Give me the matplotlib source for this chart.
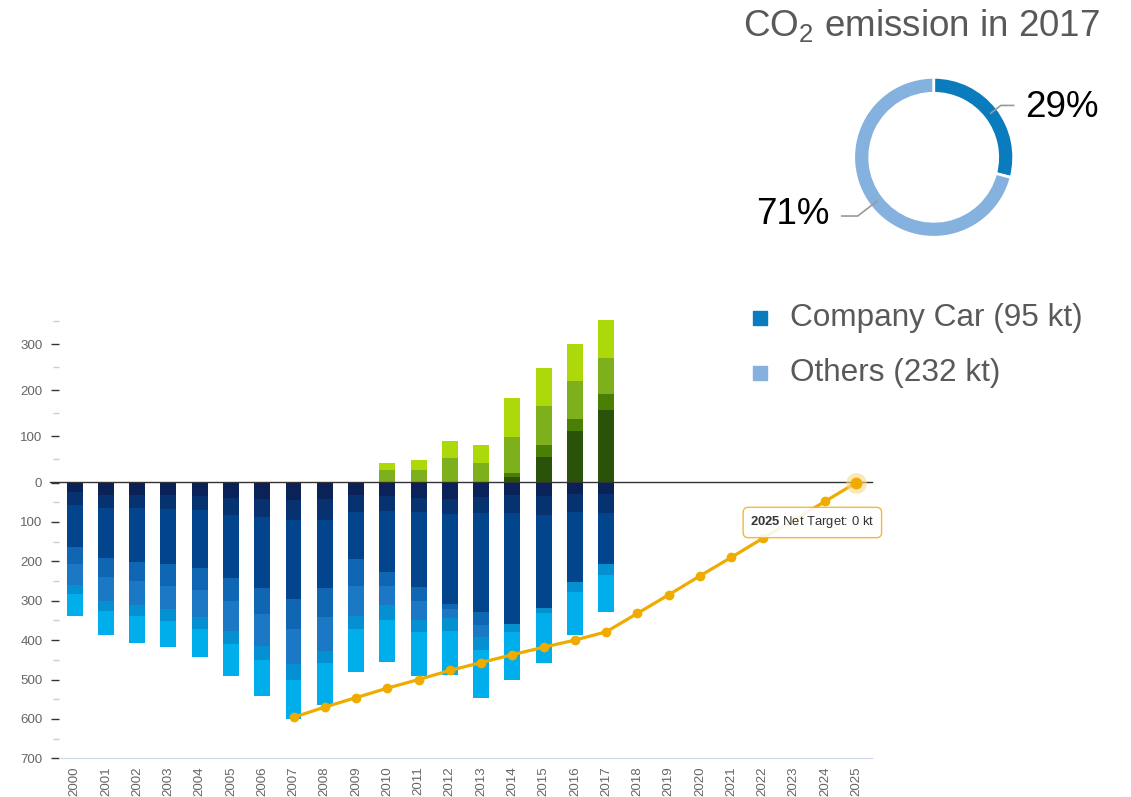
import numpy as np
import matplotlib.pyplot as plt
from matplotlib.patches import Rectangle
from matplotlib.ticker import MultipleLocator, FixedLocator

plt.rcParams['font.family'] = ['Liberation Sans', 'DejaVu Sans']
plt.rcParams['mathtext.fontset'] = 'custom'
plt.rcParams['mathtext.rm'] = 'Liberation Sans'
plt.rcParams['mathtext.bf'] = 'Liberation Sans:bold'

# Data
years = list(range(2000, 2026))
bar_years = list(range(2000, 2018))

# emission segments (kt), stacked downward, darkest first
seg1 = [25, 31, 31, 31, 33, 39, 42, 45, 42, 31, 33, 39, 42, 37, 31, 33, 28, 28]
seg2 = [31, 34, 34, 35, 37, 43, 45, 50, 52, 44, 39, 36, 39, 41, 47, 50, 47, 50]
seg3 = [108, 127, 136, 140, 147, 160, 180, 200, 173, 119, 156, 189, 227, 250, 280, 236, 177, 128]
seg4 = [42, 47, 48, 56, 57, 60, 68, 77, 74, 68, 34, 36, 14, 33, 0, 0, 0, 0]
seg5 = [53, 62, 62, 60, 68, 76, 81, 88, 87, 78, 48, 48, 23, 30, 0, 0, 0, 0]
seg6 = [25, 25, 28, 29, 29, 32, 34, 41, 31, 33, 39, 31, 31, 35, 21, 12, 27, 29]
seg7 = [54, 62, 69, 67, 72, 81, 91, 99, 105, 108, 106, 112, 112, 121, 123, 126, 107, 94]

# offset segments (kt), stacked upward, 2010-2017
green_years = list(range(2010, 2018))
green1 = [0, 0, 0, 0, 11, 56, 112, 158]
green2 = [0, 0, 0, 0, 9, 26, 25, 33]
green3 = [27, 27, 53, 43, 78, 85, 83, 79]
green4 = [16, 21, 38, 38, 86, 81, 80, 83]

# net target path 2007-2025
target_years = list(range(2007, 2026))
target = [596, 570, 546, 522, 500, 477, 457, 437, 418, 400, 379,
          332, 285, 237, 190, 142, 95, 48, 0]

# donut 2017
donut_labels = ['Company Car', 'Others']
donut_values = [95, 232]
donut_colors = ['#0a7bbd', '#85b1de']

blue_colors = ['#0b2259', '#06326f', '#03458c', '#0f66b3', '#1a78c5', '#0590d1', '#00aeeb']
green_colors = ['#2b520a', '#4a7f06', '#7db01c', '#add80a']
line_color = '#f0ab00'
label_color = '#666666'

W, H = 1131, 797


def px_rect(x0, y0, x1, y1):
    return [x0 / W, 1 - y1 / H, (x1 - x0) / W, (y1 - y0) / H]


fig = plt.figure(figsize=(W / 100, H / 100), dpi=100)

ax_top = fig.add_axes(px_rect(59, 312, 872, 482.5))
ax_bot = fig.add_axes(px_rect(59, 482.5, 872, 758.3))

xi = {y: i for i, y in enumerate(years)}
bw = 0.51

# negative bars
bx = [xi[y] for y in bar_years]
bottom = np.zeros(len(bar_years))
for seg, c in zip([seg1, seg2, seg3, seg4, seg5, seg6, seg7], blue_colors):
    ax_bot.bar(bx, seg, bw, bottom=bottom, color=c, linewidth=0, zorder=2)
    bottom += np.array(seg)

# positive bars
gx = [xi[y] for y in green_years]
bottom = np.zeros(len(green_years))
for seg, c in zip([green1, green2, green3, green4], green_colors):
    ax_top.bar(gx, seg, bw, bottom=bottom, color=c, linewidth=0, zorder=2)
    bottom += np.array(seg)

# target line
tx = [xi[y] for y in target_years]
ax_bot.plot(tx, target, color=line_color, lw=2.3, marker='o', ms=6, zorder=5, clip_on=False)
ax_bot.plot(tx[-1], target[-1], 'o', ms=15, color='#f7d98a', alpha=0.6, zorder=6, clip_on=False,
            markeredgewidth=0)
ax_bot.plot(tx[-1], target[-1], 'o', ms=7.5, color=line_color, zorder=7, clip_on=False)

ax_bot.annotate(r'$\mathbf{2025}$ Net Target: ' + f'{target[-1]} kt',
                xy=(tx[-1], target[-1]), xytext=(-44, -40), textcoords='offset pixels',
                ha='center', va='center', fontsize=9.4, color='#333333', zorder=10,
                bbox=dict(boxstyle='round,pad=0.55,rounding_size=0.4', fc='white', alpha=0.9,
                          ec='#f0b323', lw=1.0))

for ax in (ax_top, ax_bot):
    ax.set_xlim(-0.5, len(years) - 0.5)
    for s in ax.spines.values():
        s.set_visible(False)
    ax.tick_params(axis='y', which='major', length=6, width=1, color='#333333',
                   labelsize=9.6, labelcolor=label_color, pad=6)
    ax.tick_params(axis='y', which='minor', length=4, width=1, color='#cccccc')
    ax.set_facecolor('none')

ax_top.set_ylim(0, 370)
ax_top.yaxis.set_major_locator(FixedLocator([100, 200, 300]))
ax_top.yaxis.set_minor_locator(FixedLocator([50, 150, 250, 350]))
ax_top.set_xticks([])
ax_top.axhline(0, xmin=-0.011, xmax=1.0, color='#333333', lw=1.0, zorder=4, clip_on=False)

ax_bot.set_ylim(700, 0)
ax_bot.yaxis.set_major_locator(MultipleLocator(100))
ax_bot.yaxis.set_minor_locator(FixedLocator(np.arange(50, 700, 100)))
ax_bot.spines['bottom'].set_visible(True)
ax_bot.spines['bottom'].set_color('#ccd6eb')
ax_bot.set_xticks(range(len(years)))
ax_bot.set_xticklabels([str(y) for y in years], rotation=90, fontsize=9.6, color=label_color)
ax_bot.tick_params(axis='x', length=0, pad=6)

# title
fig.text(743 / W, 1 - 37 / H, r'CO$_2$ emission in 2017', fontsize=26.5, color='#595959',
         ha='left', va='baseline')

# donut
ax_d = fig.add_axes(px_rect(853.7, 77.3, 1013.7, 237.3))
wedges, _ = ax_d.pie(donut_values, colors=donut_colors, startangle=90, counterclock=False,
                     wedgeprops=dict(width=0.2, edgecolor='white', linewidth=2))
ax_d.set_xlim(-1, 1)
ax_d.set_ylim(-1, 1)
total = sum(donut_values)
elbow_r = [1.06, 1.2]
run = [0.16, 0.2]
for w, v, er, rl in zip(wedges, donut_values, elbow_r, run):
    ang = np.deg2rad((w.theta1 + w.theta2) / 2)
    c, s = np.cos(ang), np.sin(ang)
    sign = 1 if c > 0 else -1
    p0 = (0.9 * c, 0.9 * s)
    p1 = (er * c, er * s)
    p2 = (p1[0] + sign * rl, p1[1])
    ax_d.plot([p0[0], p1[0], p2[0]], [p0[1], p1[1], p2[1]], color='#999999', lw=1.2,
              clip_on=False)
    ax_d.text(p2[0] + sign * 0.15, p2[1] - 0.02 * sign, f'{round(100 * v / total)}%',
              fontsize=26.5, color='black', ha='left' if sign > 0 else 'right', va='center',
              clip_on=False)

# legend
for i, (lab, v, c) in enumerate(zip(donut_labels, donut_values, donut_colors)):
    yc = 318 + 55 * i
    fig.patches.append(Rectangle((753 / W, 1 - (yc + 7) / H), 14 / W, 14 / H,
                                 transform=fig.transFigure, color=c))
    fig.text(790 / W, 1 - yc / H, f'{lab} ({v} kt)', fontsize=22.7, color='#595959',
             ha='left', va='center')

fig.savefig('out.png', dpi=100)
